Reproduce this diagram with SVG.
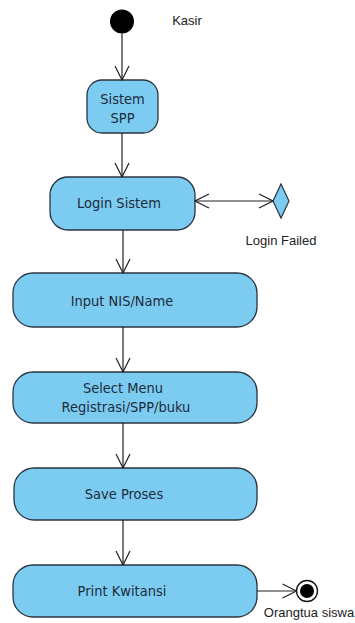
<svg xmlns="http://www.w3.org/2000/svg" width="355" height="623" viewBox="0 0 355 623">
  <style>
    .act { fill: #7ccbf1; stroke: #2b3440; stroke-width: 1.3; }
    .lbl { font-family: "DejaVu Sans Condensed", "DejaVu Sans", sans-serif; font-stretch: condensed; font-size: 14.5px; fill: #1c2b3c; text-anchor: middle; }
    .note { font-family: "Liberation Sans", Arial, sans-serif; font-size: 13px; fill: #222; text-anchor: middle; }
    .flow { stroke: #222; stroke-width: 1.2; fill: none; }
  </style>
  <defs>
    <marker id="open" viewBox="0 0 16 16" refX="15" refY="8" markerWidth="16" markerHeight="16" markerUnits="userSpaceOnUse" orient="auto-start-reverse">
      <path d="M1,1 L15,8 L1,15" fill="none" stroke="#222" stroke-width="1.2"/>
    </marker>
  </defs>
  <rect width="355" height="623" fill="#ffffff"/>

  <!-- initial node -->
  <g id="start">
    <circle cx="122" cy="21.5" r="12" fill="#000"/>
    <text class="note" x="187" y="25">Kasir</text>
  </g>

  <g id="sistem-spp">
    <rect class="act" x="87" y="80" width="71" height="53" rx="15"/>
    <text class="lbl" x="122.5" y="104">Sistem</text>
    <text class="lbl" x="122.5" y="123">SPP</text>
  </g>

  <g id="login-sistem">
    <rect class="act" x="50" y="177" width="145" height="53" rx="18"/>
    <text class="lbl" x="119" y="208">Login Sistem</text>
  </g>

  <g id="login-failed">
    <polygon points="281,184 289,201 281,218 273,201" fill="#7ccbf1" stroke="#2b3440" stroke-width="1.2"/>
    <text class="note" x="281" y="245">Login Failed</text>
  </g>

  <g id="input-nis">
    <rect class="act" x="13" y="273" width="244" height="54" rx="20"/>
    <text class="lbl" x="122" y="306">Input NIS/Name</text>
  </g>

  <g id="select-menu">
    <rect class="act" x="13" y="372" width="244" height="51" rx="20"/>
    <text class="lbl" x="123" y="393">Select Menu</text>
    <text class="lbl" x="126" y="412">Registrasi/SPP/buku</text>
  </g>

  <g id="save-proses">
    <rect class="act" x="14" y="468" width="243" height="52" rx="20"/>
    <text class="lbl" x="124" y="499">Save Proses</text>
  </g>

  <g id="print-kwitansi">
    <rect class="act" x="13" y="565" width="244" height="52" rx="20"/>
    <text class="lbl" x="122" y="596">Print Kwitansi</text>
  </g>

  <!-- final node -->
  <g id="end">
    <circle cx="307" cy="591" r="10.5" fill="#fff" stroke="#111" stroke-width="1.3"/>
    <circle cx="307" cy="591" r="7" fill="#000"/>
    <text class="note" x="309" y="617">Orangtua siswa</text>
  </g>

  <!-- control flows -->
  <g id="connectors">
    <line class="flow" x1="122" y1="33.5" x2="122" y2="80" marker-end="url(#open)"/>
    <line class="flow" x1="122" y1="133" x2="122" y2="177" marker-end="url(#open)"/>
    <line class="flow" x1="195" y1="201" x2="273" y2="201" marker-start="url(#open)" marker-end="url(#open)"/>
    <line class="flow" x1="123" y1="230" x2="123" y2="273" marker-end="url(#open)"/>
    <line class="flow" x1="123" y1="327" x2="123" y2="372" marker-end="url(#open)"/>
    <line class="flow" x1="123" y1="423" x2="123" y2="468" marker-end="url(#open)"/>
    <line class="flow" x1="123" y1="520" x2="123" y2="565" marker-end="url(#open)"/>
    <line class="flow" x1="257" y1="591" x2="296.5" y2="591" marker-end="url(#open)"/>
  </g>
</svg>
